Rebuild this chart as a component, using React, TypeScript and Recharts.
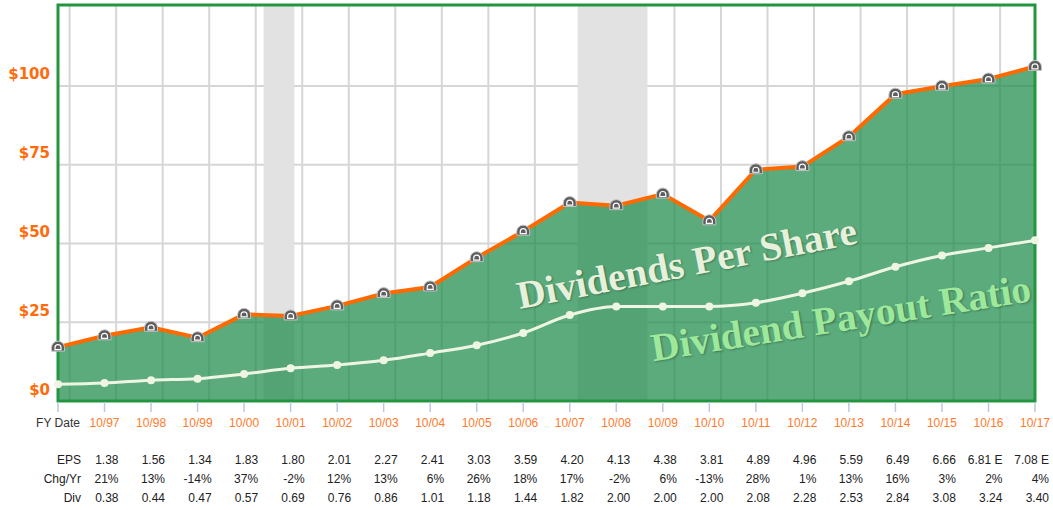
import React from 'react';
import { ComposedChart, Area, Line, XAxis, YAxis, CartesianGrid, ReferenceArea } from 'recharts';

const fyLabels = ['FY Date', '10/97', '10/98', '10/99', '10/00', '10/01', '10/02', '10/03', '10/04', '10/05', '10/06',
  '10/07', '10/08', '10/09', '10/10', '10/11', '10/12', '10/13', '10/14', '10/15', '10/16', '10/17'];
// orange earnings line (price scale)
const earningsLine = [17.1, 20.7, 23.4, 20.1, 27.5, 27.0, 30.2, 34.1, 36.2, 45.5, 53.9, 63.0, 62.0, 65.7, 57.2, 73.4, 74.4, 83.9, 97.4, 99.9, 102.2, 106.2];
// white dividend line
const dividendLine = [5.3, 5.7, 6.6, 7.1, 8.6, 10.4, 11.4, 12.9, 15.2, 17.7, 21.6, 27.3, 30.0, 30.0, 30.0, 31.2, 34.2, 38.0, 42.6, 46.2, 48.6, 51.0];

const rowLabels = ['EPS', 'Chg/Yr', 'Div'];
const epsRow = ['1.38', '1.56', '1.34', '1.83', '1.80', '2.01', '2.27', '2.41', '3.03', '3.59', '4.20', '4.13', '4.38', '3.81', '4.89', '4.96', '5.59', '6.49', '6.66', '6.81 E', '7.08 E'];
const chgRow = ['21%', '13%', '-14%', '37%', '-2%', '12%', '13%', '6%', '26%', '18%', '17%', '-2%', '6%', '-13%', '28%', '1%', '13%', '16%', '3%', '2%', '4%'];
const divRow = ['0.38', '0.44', '0.47', '0.57', '0.69', '0.76', '0.86', '1.01', '1.18', '1.44', '1.82', '2.00', '2.00', '2.00', '2.08', '2.28', '2.53', '2.84', '3.08', '3.24', '3.40'];

// recession bands, in fiscal-year index units
const recessions = [[4.42, 5.08], [11.17, 12.67]];
const yTicks = [0, 25, 50, 75, 100];
const yMax = 125.7;
const xMax = 21;

const data = fyLabels.map((label, i) => ({
  idx: i,
  label,
  earnings: earningsLine[i],
  dividends: dividendLine[i],
}));

// calendar year lines sit a quarter year after each October point
const yearLines = fyLabels.slice(0, 21).map((_, i) => i + 0.25);

const DomeDot = (props: any) => {
  const { cx, cy } = props;
  if (cx == null || cy == null) return null;
  return (
    <g>
      <path
        d={`M${cx - 6.5},${cy + 4} L${cx - 6.5},${cy + 0.5} A6.5,6.5 0 0 1 ${cx + 6.5},${cy + 0.5} L${cx + 6.5},${cy + 4} Z`}
        fill="#5e5e5e"
        stroke="#c4c4c4"
        strokeWidth={1}
      />
      <path
        d={`M${cx - 3},${cy + 2.5} L${cx - 3},${cy + 0.5} A3,3 0 0 1 ${cx + 3},${cy + 0.5} L${cx + 3},${cy + 2.5} Z`}
        fill="none"
        stroke="#fff"
        strokeWidth={1.2}
      />
    </g>
  );
};

const YTick = (props: any) => {
  const { x, y, payload } = props;
  return (
    <text x={x} y={y - 11} textAnchor="end" dominantBaseline="middle" fill="#ff6a0a"
      fontFamily="DejaVu Sans" fontWeight="bold" fontSize={15}>
      ${payload.value}
    </text>
  );
};

const XTick = (props: any) => {
  const { x, y, payload } = props;
  const i = payload.value;
  const first = i === 0;
  const values = first ? rowLabels : [epsRow[i - 1], chgRow[i - 1], divRow[i - 1]];
  const vx = first ? x + 23 : x + 14;
  return (
    <g fontFamily="Liberation Sans, Arial" fontSize={12}>
      <line x1={x} x2={x} y1={y + 1} y2={y + 11} stroke="#b9c9e0" strokeWidth={1.5} />
      <text x={x} y={y + 26} textAnchor="middle" fill={first ? '#333' : '#ff7a2a'}>{fyLabels[i]}</text>
      {values.map((v, r) => (
        <text key={r} x={vx} y={y + 63 + r * 19} textAnchor="end" fill="#222">{v}</text>
      ))}
    </g>
  );
};

const annotationBase: React.CSSProperties = {
  position: 'absolute',
  fontFamily: 'Liberation Serif, Times New Roman, serif',
  fontWeight: 'bold',
  fontSize: 39.5,
  lineHeight: 1,
  whiteSpace: 'nowrap',
  textShadow: '1px 1px 2px rgba(0,0,0,0.3)',
  pointerEvents: 'none',
};

export default function App() {
  return (
    <div style={{ position: 'absolute', left: 0, top: 0, width: 1053, height: 510, background: '#fff' }}>
      <ComposedChart width={1053} height={510} data={data} margin={{ top: 5, right: 18, bottom: 0, left: 0 }}>
        {recessions.map(([a, b], k) => (
          <ReferenceArea key={k} x1={a} x2={b} y1={0} y2={yMax} fill="#e2e2e2" fillOpacity={1} stroke="none" ifOverflow="hidden" />
        ))}
        <CartesianGrid
          stroke="#d6d6d6"
          strokeWidth={2}
          verticalCoordinatesGenerator={({ offset }: any) =>
            yearLines.map((v) => offset.left + (offset.width * v) / xMax)
          }
        />
        <XAxis
          dataKey="idx"
          type="number"
          domain={[0, xMax]}
          ticks={fyLabels.map((_, i) => i)}
          interval={0}
          axisLine={false}
          tickLine={false}
          tickSize={0}
          tickMargin={0}
          height={109}
          tick={<XTick />}
        />
        <YAxis
          type="number"
          domain={[0, yMax]}
          ticks={yTicks}
          width={58}
          axisLine={false}
          tickLine={false}
          tickSize={0}
          tickMargin={8}
          tick={<YTick />}
        />
        <Area
          type="linear"
          dataKey="earnings"
          stroke="#ff6a00"
          strokeWidth={4}
          fill="#1c8a4a"
          fillOpacity={0.72}
          baseValue={0}
          dot={<DomeDot />}
          activeDot={false}
          isAnimationActive={false}
        />
        <Line
          type="monotone"
          dataKey="dividends"
          stroke="#eef5e2"
          strokeWidth={3}
          dot={{ r: 4, fill: '#eef5e2', stroke: 'none' }}
          activeDot={false}
          isAnimationActive={false}
        />
        <ReferenceArea x1={0} x2={xMax} y1={0} y2={yMax} fill="none" stroke="#24953f" strokeWidth={3} ifOverflow="visible" />
      </ComposedChart>
      <div style={{ ...annotationBase, left: 687, top: 264, color: '#e7f0da', transform: 'translate(-50%, -50%) rotate(-11deg)' }}>
        Dividends Per Share
      </div>
      <div style={{ ...annotationBase, left: 841, top: 319, color: '#9ee89c', transform: 'translate(-50%, -50%) rotate(-9deg)' }}>
        Dividend Payout Ratio
      </div>
    </div>
  );
}
